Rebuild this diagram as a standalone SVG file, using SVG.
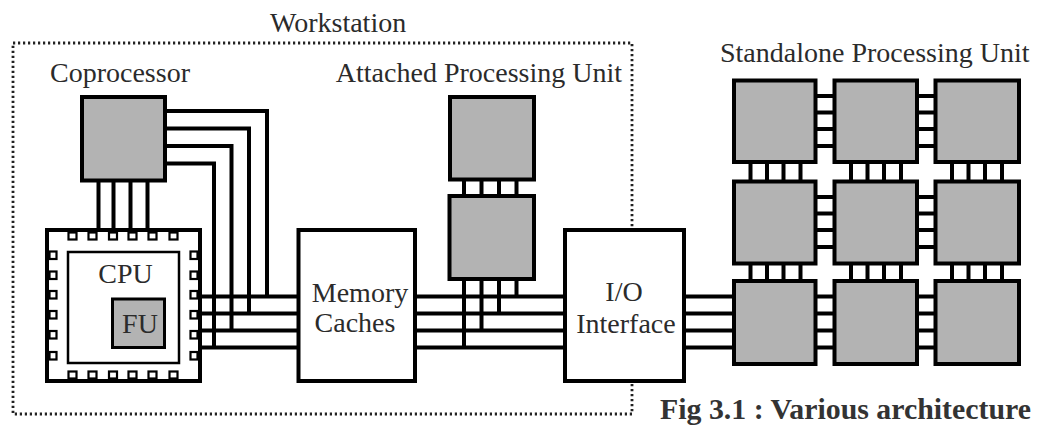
<svg xmlns="http://www.w3.org/2000/svg" width="1037" height="426" viewBox="0 0 1037 426">
<style>
.lbl{font-family:"Liberation Serif","Times New Roman",serif;font-size:28px;fill:#2b2b2b}
.cap{font-family:"Liberation Serif","Times New Roman",serif;font-size:29.5px;font-weight:bold;fill:#333}
.box{fill:#fff;stroke:#000;stroke-width:4}
.gbox{fill:#b3b3b3;stroke:#000;stroke-width:4}
.pin{fill:#fff;stroke:#000;stroke-width:2.2}
.w{fill:none;stroke:#000;stroke-width:4;stroke-linejoin:miter}
.frame{fill:none;stroke:#222;stroke-width:2.8;stroke-dasharray:2.2 2.8}
</style>
<rect width="1037" height="426" fill="#fff"/>
<g id="workstation">
<rect class="frame" x="13" y="43" width="619" height="371"/>
<text class="lbl" x="270" y="32">Workstation</text>
</g>
<g id="connectors">
<path class="w" d="M165,111H267V296.5M165,128.5H249V313.5M165,146H231.5V330.5M165,163.5H214V347.5"/>
<path class="w" d="M98.5,180.5V230M113.5,180.5V230M130.5,180.5V230M147.5,180.5V230"/>
<path class="w" d="M200,296.5H298.5M200,313.5H298.5M200,330.5H298.5M200,347.5H298.5"/>
<path class="w" d="M415,296.5H565M415,313.5H565M415,330.5H565M415,347.5H565"/>
<path class="w" d="M464,279V347.5M481.5,279V330.5M499,279V313.5M516.5,279V296.5"/>
<path class="w" d="M464,179.5V196M481.5,179.5V196M499,179.5V196M516.5,179.5V196"/>
<path class="w" d="M684,296.5H734M684,313.5H734M684,330.5H734M684,347.5H734"/>
<path class="w" d="M815.5,96H834.5M815.5,112.5H834.5M815.5,129H834.5M815.5,146H834.5M917,96H935.5M917,112.5H935.5M917,129H935.5M917,146H935.5"/>
<path class="w" d="M815.5,197H834.5M815.5,213.5H834.5M815.5,230H834.5M815.5,247H834.5M917,197H935.5M917,213.5H935.5M917,230H935.5M917,247H935.5"/>
<path class="w" d="M815.5,296.5H834.5M815.5,313.5H834.5M815.5,330.5H834.5M815.5,347.5H834.5M917,296.5H935.5M917,313.5H935.5M917,330.5H935.5M917,347.5H935.5"/>
<path class="w" d="M750.5,162V181.5M767,162V181.5M783.5,162V181.5M800.5,162V181.5M851,162V181.5M867.5,162V181.5M884,162V181.5M901,162V181.5M952,162V181.5M968.5,162V181.5M985,162V181.5M1002,162V181.5"/>
<path class="w" d="M750.5,263.5V281M767,263.5V281M783.5,263.5V281M800.5,263.5V281M851,263.5V281M867.5,263.5V281M884,263.5V281M901,263.5V281M952,263.5V281M968.5,263.5V281M985,263.5V281M1002,263.5V281"/>
</g>
<g id="coprocessor">
<rect class="gbox" x="82" y="97" width="83" height="83.5"/>
<text class="lbl" x="50" y="82">Coprocessor</text>
</g>
<g id="cpu">
<rect class="box" x="47" y="230" width="153" height="151"/>
<rect fill="none" stroke="#000" stroke-width="2.5" x="68" y="252" width="111" height="111"/>
<rect class="pin" x="68.5" y="232.5" width="8" height="7"/>
<rect class="pin" x="88.5" y="232.5" width="8" height="7"/>
<rect class="pin" x="109" y="232.5" width="8" height="7"/>
<rect class="pin" x="128.5" y="232.5" width="8" height="7"/>
<rect class="pin" x="148.5" y="232.5" width="8" height="7"/>
<rect class="pin" x="169.5" y="232.5" width="8" height="7"/>
<rect class="pin" x="68.5" y="371.5" width="8" height="7"/>
<rect class="pin" x="88.5" y="371.5" width="8" height="7"/>
<rect class="pin" x="109" y="371.5" width="8" height="7"/>
<rect class="pin" x="128.5" y="371.5" width="8" height="7"/>
<rect class="pin" x="148.5" y="371.5" width="8" height="7"/>
<rect class="pin" x="169.5" y="371.5" width="8" height="7"/>
<rect class="pin" x="49.5" y="251.5" width="7" height="7.5"/>
<rect class="pin" x="49.5" y="271.5" width="7" height="7.5"/>
<rect class="pin" x="49.5" y="291" width="7" height="7.5"/>
<rect class="pin" x="49.5" y="311" width="7" height="7.5"/>
<rect class="pin" x="49.5" y="331" width="7" height="7.5"/>
<rect class="pin" x="49.5" y="352" width="7" height="7.5"/>
<rect class="pin" x="190.5" y="251.5" width="7" height="7.5"/>
<rect class="pin" x="190.5" y="271.5" width="7" height="7.5"/>
<rect class="pin" x="190.5" y="291" width="7" height="7.5"/>
<rect class="pin" x="190.5" y="311" width="7" height="7.5"/>
<rect class="pin" x="190.5" y="331" width="7" height="7.5"/>
<rect class="pin" x="190.5" y="352" width="7" height="7.5"/>
<text class="lbl" x="125.5" y="283" text-anchor="middle">CPU</text>
<rect fill="#b3b3b3" stroke="#000" stroke-width="3" x="112.5" y="299" width="52" height="48.5"/>
<text class="lbl" x="140" y="333" text-anchor="middle">FU</text>
</g>
<g id="memory">
<rect class="box" x="298.5" y="230" width="116.5" height="151"/>
<text class="lbl" x="360" y="302" text-anchor="middle">Memory</text>
<text class="lbl" x="355" y="332" text-anchor="middle">Caches</text>
</g>
<g id="apu">
<rect class="gbox" x="450" y="97" width="84" height="82.5"/>
<rect class="gbox" x="449.5" y="196" width="84.5" height="83"/>
<text class="lbl" x="622" y="82" text-anchor="end">Attached Processing Unit</text>
</g>
<g id="io">
<rect class="box" x="565" y="230" width="119" height="151"/>
<text class="lbl" x="624" y="301" text-anchor="middle">I/O</text>
<text class="lbl" x="626" y="333" text-anchor="middle">Interface</text>
</g>
<g id="standalone">
<rect class="gbox" x="734" y="80.5" width="81.5" height="81.5"/>
<rect class="gbox" x="834.5" y="80.5" width="82.5" height="81.5"/>
<rect class="gbox" x="935.5" y="80.5" width="83.5" height="81.5"/>
<rect class="gbox" x="734" y="181.5" width="81.5" height="82"/>
<rect class="gbox" x="834.5" y="181.5" width="82.5" height="82"/>
<rect class="gbox" x="935.5" y="181.5" width="83.5" height="82"/>
<rect class="gbox" x="734" y="281" width="81.5" height="83"/>
<rect class="gbox" x="834.5" y="281" width="82.5" height="83"/>
<rect class="gbox" x="935.5" y="281" width="83.5" height="83"/>
<text class="lbl" x="720" y="62">Standalone Processing Unit</text>
</g>
<g id="caption">
<text class="cap" x="660" y="419" textLength="371" lengthAdjust="spacingAndGlyphs">Fig 3.1 : Various architecture</text>
</g>
</svg>
